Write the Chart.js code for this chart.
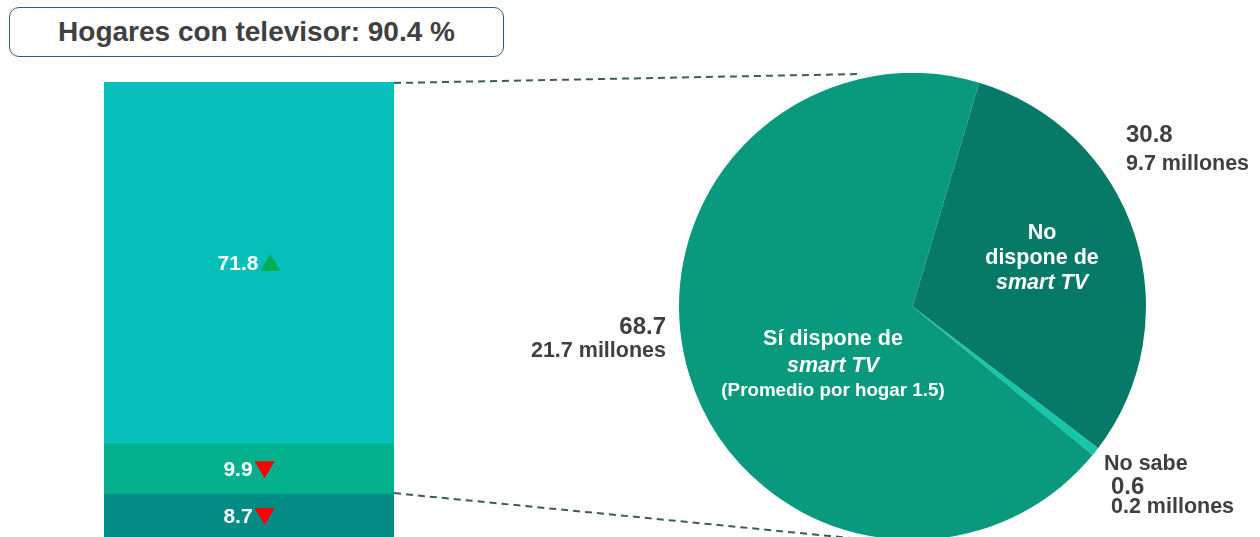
<!DOCTYPE html>
<html>
<head>
<meta charset="utf-8">
<script src="https://cdn.jsdelivr.net/npm/chart.js@4"></script>
<style>
  html, body { margin: 0; padding: 0; width: 1260px; height: 537px; overflow: hidden; background: #fff; }
  body { position: relative; font-family: "Liberation Sans", Arial, sans-serif; font-weight: bold; color: #404040; }
  #titulo { position: absolute; left: 9px; top: 7px; width: 495px; height: 50px; border: 1.5px solid #2a6079; border-radius: 10px;
    box-sizing: border-box; text-align: center; line-height: 47px; font-size: 28px; color: #404040; }
  #barCont { position: absolute; left: 104px; top: 82px; width: 290px; height: 456px; }
  #pieCont { position: absolute; left: 679px; top: 73px; width: 467px; height: 467px; }
  #lineas { position: absolute; left: 0; top: 0; pointer-events: none; }
  .lbl { position: absolute; white-space: nowrap; line-height: 1; }
  .w { color: #fff; text-align: center; }
  i { font-style: italic; }
</style>
</head>
<body>
<div id="titulo"></div>
<div id="barCont"><canvas id="barras"></canvas></div>
<div id="pieCont"><canvas id="pastel"></canvas></div>
<canvas id="lineas" width="1260" height="537"></canvas>

<div class="lbl w" style="left:1042px; top:220px; transform:translateX(-50%); font-size:21.5px; line-height:25px;">No<br>dispone de<br><i>smart TV</i></div>
<div class="lbl w" style="left:833px; top:325px; transform:translateX(-50%); font-size:21.5px; line-height:27px;">Sí dispone de<br><i>smart TV</i></div>
<div class="lbl w" style="left:833px; top:381px; transform:translateX(-50%); font-size:18.8px;">(Promedio por hogar 1.5)</div>

<div class="lbl" id="l_si_pct" style="right:594px; top:314px; font-size:24px;"></div>
<div class="lbl" id="l_si_mill" style="right:594px; top:340px; font-size:21.5px;"></div>
<div class="lbl" id="l_no_pct" style="left:1126px; top:122px; font-size:24px;"></div>
<div class="lbl" id="l_no_mill" style="left:1126px; top:153px; font-size:21.5px;"></div>
<div class="lbl" style="left:1104px; top:453px; font-size:21.5px;">No sabe</div>
<div class="lbl" id="l_ns_pct" style="left:1111px; top:474px; font-size:24px;"></div>
<div class="lbl" id="l_ns_mill" style="left:1111px; top:496px; font-size:21.5px;"></div>

<script>
// datos
var totalTV = 90.4
var barLabels = ["Hogares"]
var barSeries = ["8.7", "9.9", "71.8"]
var barValues = [8.7, 9.9, 71.8]
var barTrend = ["down", "down", "up"]
var barColors = ["#038c83", "#02b08c", "#06bfba"]

var pieLabels = ["No dispone de smart TV", "No sabe", "Sí dispone de smart TV"]
var pieValues = [30.8, 0.6, 68.7]
var pieMillones = [9.7, 0.2, 21.7]
var pieColors = ["#067a66", "#13c7a8", "#099a7d"]

document.getElementById("titulo").textContent = "Hogares con televisor: " + totalTV + " %"
document.getElementById("l_no_pct").textContent = pieValues[0]
document.getElementById("l_no_mill").textContent = pieMillones[0] + " millones"
document.getElementById("l_ns_pct").textContent = pieValues[1]
document.getElementById("l_ns_mill").textContent = pieMillones[1] + " millones"
document.getElementById("l_si_pct").textContent = pieValues[2]
document.getElementById("l_si_mill").textContent = pieMillones[2] + " millones"

Chart.defaults.font.family = "'Liberation Sans', Arial, sans-serif"

// etiquetas de las barras con flecha de tendencia
var etiquetasBarras = {
  id: "etiquetasBarras",
  afterDatasetsDraw: function (chart) {
    var ctx = chart.ctx
    ctx.save()
    ctx.font = "bold 21px 'Liberation Sans', Arial, sans-serif"
    ctx.textBaseline = "middle"
    chart.data.datasets.forEach(function (ds, i) {
      var el = chart.getDatasetMeta(i).data[0]
      var txt = ds.data[0].toFixed(1)
      var w = ctx.measureText(txt).width
      var cy = (el.y + el.base) / 2
      var x0 = el.x - (w + 22) / 2
      ctx.fillStyle = "#fff"
      ctx.textAlign = "left"
      ctx.fillText(txt, x0, cy + 1)
      var tx = x0 + w + 2
      ctx.beginPath()
      if (barTrend[i] == "up") {
        ctx.fillStyle = "#00b050"
        ctx.moveTo(tx, cy + 8); ctx.lineTo(tx + 20, cy + 8); ctx.lineTo(tx + 10, cy - 9)
      } else {
        ctx.fillStyle = "#ff0000"
        ctx.moveTo(tx, cy - 8); ctx.lineTo(tx + 20, cy - 8); ctx.lineTo(tx + 10, cy + 9)
      }
      ctx.closePath()
      ctx.fill()
    })
    ctx.restore()
  }
}

var barras = new Chart(document.getElementById("barras"), {
  type: "bar",
  data: {
    labels: barLabels,
    datasets: barValues.map(function (v, i) {
      return { label: barSeries[i], data: [v], backgroundColor: barColors[i], borderWidth: 0, barPercentage: 1, categoryPercentage: 1 }
    })
  },
  options: {
    responsive: true,
    maintainAspectRatio: false,
    animation: false,
    layout: { padding: 0 },
    plugins: { legend: { display: false }, tooltip: { enabled: false } },
    scales: {
      x: { stacked: true, display: false },
      y: { stacked: true, display: false, min: 0, max: totalTV }
    }
  },
  plugins: [etiquetasBarras]
})

var pastel = new Chart(document.getElementById("pastel"), {
  type: "pie",
  data: {
    labels: pieLabels,
    datasets: [{ data: pieValues, backgroundColor: pieColors, borderWidth: 0 }]
  },
  options: {
    responsive: true,
    maintainAspectRatio: false,
    animation: false,
    rotation: 16.6,
    layout: { padding: 0 },
    plugins: { legend: { display: false }, tooltip: { enabled: false } }
  }
})

// lineas punteadas de conexion
function dibujarLineas() {
  var c = document.getElementById("lineas")
  var ctx = c.getContext("2d")
  var bRect = barras.canvas.getBoundingClientRect()
  var pRect = pastel.canvas.getBoundingClientRect()
  var top = barras.getDatasetMeta(2).data[0]
  var mid = barras.getDatasetMeta(0).data[0]
  var arc = pastel.getDatasetMeta(0).data[0]
  var cx = pRect.left + arc.x, cy = pRect.top + arc.y, r = arc.outerRadius
  ctx.clearRect(0, 0, c.width, c.height)
  ctx.strokeStyle = "#3d5c58"
  ctx.lineWidth = 2
  ctx.setLineDash([7, 5])
  ctx.beginPath()
  ctx.moveTo(bRect.left + top.x + top.width / 2, bRect.top + top.y + 1)
  ctx.lineTo(cx - 0.22 * r, cy - r + 1)
  ctx.stroke()
  ctx.beginPath()
  ctx.moveTo(bRect.left + mid.x + mid.width / 2, bRect.top + mid.y - 1)
  ctx.lineTo(cx - 0.18 * r, cy + r)
  ctx.stroke()
}
dibujarLineas()
</script>
</body>
</html>
